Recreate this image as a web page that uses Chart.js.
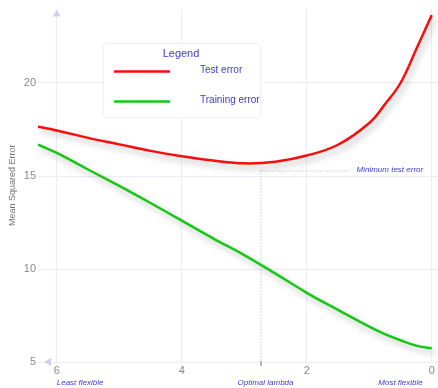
<!DOCTYPE html>
<html>
<head>
<meta charset="utf-8">
<script src="https://cdn.jsdelivr.net/npm/chart.js@4"></script>
<style>
    body { margin: 0; background: #fff; }
    #wrap { width: 438px; height: 388px; }
</style>
</head>
<body>
<div id="wrap"><canvas id="mseChart" width="438" height="388"></canvas></div>
<script>
const lambdaValues = [6.3, 6, 5.5, 5, 4.5, 4, 3.5, 3, 2.5, 2, 1.5, 1, 0.75, 0.5, 0.25, 0];
const testError = [17.65, 17.45, 17.05, 16.7, 16.35, 16.06, 15.83, 15.68, 15.77, 16.1, 16.68, 17.85, 18.85, 20.0, 21.8, 23.65];
const trainingError = [16.69, 16.24, 15.35, 14.47, 13.55, 12.6, 11.65, 10.75, 9.75, 8.72, 7.8, 6.9, 6.5, 6.17, 5.88, 5.74];
const xTicks = [0, 2, 4, 6];
const yTicks = [5, 10, 15, 20];
const optimalLambda = 2.74;
const minTestLevel = 15.3;

const textBlue = '#3d3dd8';
const gridColor = '#ececfb';

function toPoints(values) {
    return lambdaValues.map((x, i) => ({ x: x, y: values[i] }));
}

// soft drop shadow under the curves
const shadowPlugin = {
    id: 'shadow',
    beforeDatasetDraw(chart) {
        const ctx = chart.ctx;
        ctx.save();
        ctx.shadowColor = 'rgba(0,0,0,0.28)';
        ctx.shadowBlur = 6;
        ctx.shadowOffsetX = 3;
        ctx.shadowOffsetY = 4;
    },
    afterDatasetDraw(chart) {
        chart.ctx.restore();
    }
};

const annotationPlugin = {
    id: 'annotations',
    beforeDatasetsDraw(chart) {
        const ctx = chart.ctx;
        const x = chart.scales.x;
        const y = chart.scales.y;
        const area = chart.chartArea;
        const ox = x.getPixelForValue(optimalLambda);
        const my = y.getPixelForValue(minTestLevel);

        ctx.save();
        // arrows
        ctx.fillStyle = '#cfcff3';
        const ax = x.getPixelForValue(6);
        ctx.beginPath();
        ctx.moveTo(ax, area.top + 1);
        ctx.lineTo(ax - 4, area.top + 8);
        ctx.lineTo(ax + 4, area.top + 8);
        ctx.fill();
        ctx.beginPath();
        ctx.moveTo(area.left + 6, area.bottom);
        ctx.lineTo(area.left + 13, area.bottom - 4);
        ctx.lineTo(area.left + 13, area.bottom + 4);
        ctx.fill();

        // dotted guide lines
        ctx.strokeStyle = '#b0b0b0';
        ctx.lineWidth = 1;
        ctx.setLineDash([1, 2]);
        ctx.beginPath();
        ctx.moveTo(ox + 0.5, my);
        ctx.lineTo(ox + 0.5, area.bottom);
        ctx.moveTo(ox, my + 0.5);
        ctx.lineTo(ox + 88, my + 0.5);
        ctx.stroke();
        ctx.setLineDash([]);
        ctx.strokeStyle = '#777';
        ctx.beginPath();
        ctx.moveTo(ox + 0.5, area.bottom - 1);
        ctx.lineTo(ox + 0.5, area.bottom + 4);
        ctx.stroke();

        ctx.font = 'italic 8px "Liberation Sans", Arial, sans-serif';
        ctx.fillStyle = textBlue;
        ctx.textBaseline = 'middle';
        ctx.textAlign = 'left';
        ctx.fillText('Minimum test error', ox + 96, my - 1);
        ctx.fillText('Least flexible', x.getPixelForValue(6), 383);
        ctx.textAlign = 'center';
        ctx.fillText('Optimal lambda', ox + 5, 383);
        ctx.textAlign = 'right';
        ctx.fillText('Most flexible', x.getPixelForValue(0) - 9, 383);
        ctx.restore();
    },
    afterDraw(chart) {
        const ctx = chart.ctx;
        ctx.save();
        // legend box
        ctx.shadowColor = 'rgba(0,0,0,0.06)';
        ctx.shadowBlur = 3;
        ctx.fillStyle = '#fff';
        ctx.strokeStyle = '#f0f0f0';
        ctx.beginPath();
        ctx.roundRect(103.5, 43.5, 157, 74, 3);
        ctx.fill();
        ctx.shadowColor = 'transparent';
        ctx.stroke();

        ctx.font = '11px "Liberation Sans", Arial, sans-serif';
        ctx.fillStyle = textBlue;
        ctx.textBaseline = 'middle';
        ctx.textAlign = 'center';
        ctx.fillText('Legend', 181, 54);
        ctx.font = '10px "Liberation Sans", Arial, sans-serif';
        ctx.textAlign = 'left';

        const items = [
            { label: 'Test error', color: '#ff0a0a', y: 71.5 },
            { label: 'Training error', color: '#14c814', y: 101.5 }
        ];
        items.forEach(item => {
            ctx.strokeStyle = item.color;
            ctx.lineWidth = 2.5;
            ctx.beginPath();
            ctx.moveTo(114, item.y);
            ctx.lineTo(170, item.y);
            ctx.stroke();
            ctx.fillText(item.label, 200, item.y - 1);
        });
        ctx.restore();
    }
};

const ctx = document.getElementById('mseChart').getContext('2d');

new Chart(ctx, {
    type: 'line',
    data: {
        datasets: [{
            label: 'Test error',
            data: toPoints(testError),
            borderColor: '#ff0a0a',
            borderWidth: 2.5,
            pointRadius: 0,
            tension: 0.4,
            fill: false
        }, {
            label: 'Training error',
            data: toPoints(trainingError),
            borderColor: '#14c814',
            borderWidth: 2.5,
            pointRadius: 0,
            tension: 0.4,
            fill: false
        }]
    },
    options: {
        responsive: false,
        animation: false,
        layout: { padding: { top: 7, right: 0, left: 0, bottom: 0 } },
        plugins: {
            legend: { display: false },
            tooltip: { enabled: false }
        },
        scales: {
            x: {
                type: 'linear',
                reverse: true,
                min: -0.1,
                max: 6.3,
                afterBuildTicks: scale => {
                    scale.ticks = xTicks.map(v => ({ value: v }));
                },
                afterFit: scale => { scale.height = 26; },
                grid: { color: gridColor, drawTicks: false },
                border: { display: false },
                ticks: {
                    color: '#8a8a8a',
                    padding: 2,
                    font: { family: '"Liberation Sans", Arial, sans-serif', size: 11 }
                }
            },
            y: {
                min: 5,
                max: 24,
                afterBuildTicks: scale => {
                    scale.ticks = yTicks.map(v => ({ value: v }));
                },
                afterFit: scale => { scale.width = 38; },
                grid: { color: gridColor, drawTicks: false },
                border: { display: false },
                title: {
                    display: true,
                    text: 'Mean Squared Error',
                    color: '#777',
                    padding: { top: 7, bottom: 0 },
                    font: { family: '"Liberation Sans", Arial, sans-serif', size: 9 }
                },
                ticks: {
                    color: '#8a8a8a',
                    padding: 2,
                    font: { family: '"Liberation Sans", Arial, sans-serif', size: 11 }
                }
            }
        }
    },
    plugins: [shadowPlugin, annotationPlugin]
});
</script>
</body>
</html>
